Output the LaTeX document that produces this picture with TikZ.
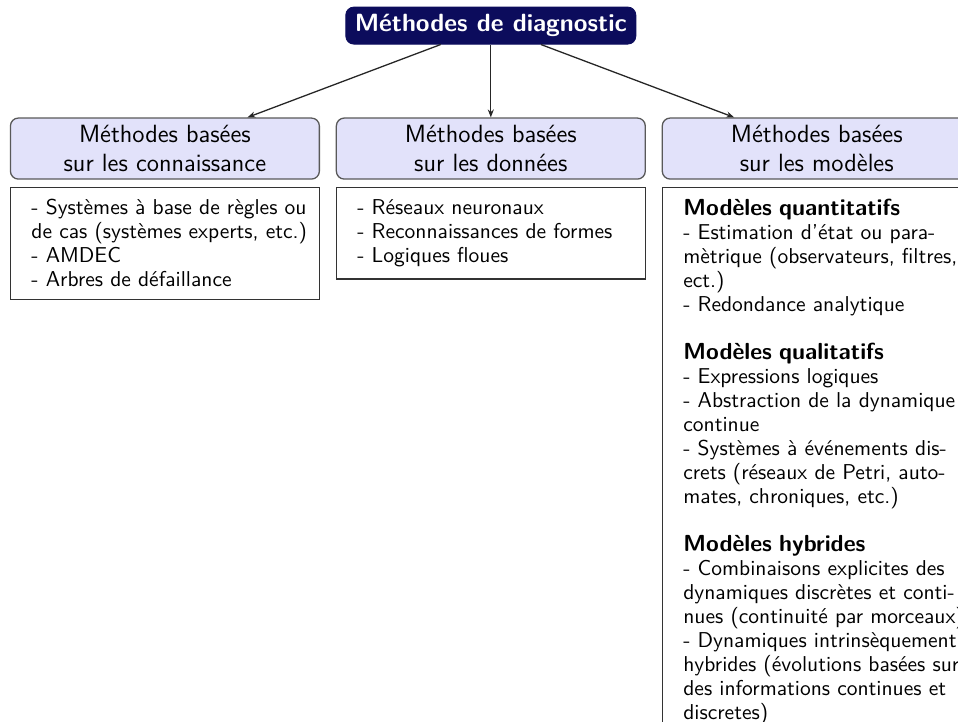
\documentclass[tikz,border=0pt]{standalone}
\usepackage{tikz}
\usetikzlibrary{arrows.meta}
\usetikzlibrary{positioning}
\definecolor{diagblue}{RGB}{12,12,92}
\definecolor{headfill}{RGB}{226,226,250}
% one justified line, a bold title line, and the indented column of a list box
\newcommand{\jl}[1]{\leavevmode\hbox to \hsize{#1}}
\newcommand{\listhead}[1]{{\fontsize{10.8}{11.16}\selectfont\bfseries #1}}
\newcommand{\listtext}[1]{\hspace*{5.6pt}\parbox[t]{129.7pt}{#1}}
\tikzset{
    boxnode/.style = {align=center, inner sep=0pt, text centered},
    diagtitle/.style = {boxnode, rectangle, rounded corners=3.7pt, white, draw=diagblue, fill=diagblue, font=\sffamily\bfseries\fontsize{11.6}{13}\selectfont, minimum width=134.9pt, minimum height=17.2pt},
    headbox/.style = {boxnode, rectangle, rounded corners=3.7pt, draw=black!65, line width=0.6pt, fill=headfill, font=\sffamily\fontsize{11.6}{13.8}\selectfont, minimum width=143.7pt, minimum height=28.4pt},
    listbox/.style = {rectangle, draw=black!80, line width=0.6pt, align=left, text width=135.3pt, inner xsep=4.2pt, inner ysep=5.6pt, font=\sffamily\fontsize{10}{11.16}\selectfont}
}
\begin{document}
\begin{tikzpicture}[>={Stealth[length=3.7pt,width=2.8pt]},
            level/.style={sibling distance=151.6pt, level distance=57.2pt},
            edge from parent/.style={draw=black!85, line width=0.6pt, ->}]
            \useasboundingbox (0,0) rectangle (445.6pt,-335.8pt);
            \clip (0,0) rectangle (445.6pt,-335.8pt);
            \node [diagtitle] (diag) at (228.3pt,-11.9pt) {Méthodes de diagnostic}
            child{ node [headbox] (know) {Méthodes basées\\sur les connaissance} }
            child{ node [headbox] (data) {Méthodes basées\\sur les données} }
            child{ node [headbox] (model) {Méthodes basées\\sur les modèles} }
            ;
            \node [listbox, below=3.3pt of know] (knowlist) {\listtext{%
                \jl{- Systèmes à base de règles ou}\\
                de cas (systèmes experts, etc.)\\
                - AMDEC\\
                - Arbres de défaillance}};
            \node [listbox, below=3.3pt of data] (datalist) {\listtext{%
                - Réseaux neuronaux\\
                - Reconnaissances de formes\\
                - Logiques floues}};
            \node [listbox, below=3.3pt of model] (modellist) {\listtext{%
                \listhead{Modèles quantitatifs}\\
                \jl{- Estimation d’état ou para-}\\
                \jl{mètrique (observateurs, filtres,}\\
                ect.)\\
                - Redondance analytique\\[11.16pt]
                \listhead{Modèles qualitatifs}\\
                - Expressions logiques\\
                \jl{- Abstraction de la dynamique}\\
                continue\\
                \jl{- Systèmes à événements dis-}\\
                \jl{crets (réseaux de Petri, auto-}\\
                mates, chroniques, etc.)\\[11.16pt]
                \listhead{Modèles hybrides}\\
                \jl{- Combinaisons explicites des}\\
                \jl{dynamiques discrètes et conti-}\\
                \mbox{nues (continuité par morceaux)}\\
                \jl{- Dynamiques intrinsèquement}\\
                \jl{hybrides (évolutions basées sur}\\
                \jl{des informations continues et}\\
                discretes)}};
\end{tikzpicture}
\end{document}
